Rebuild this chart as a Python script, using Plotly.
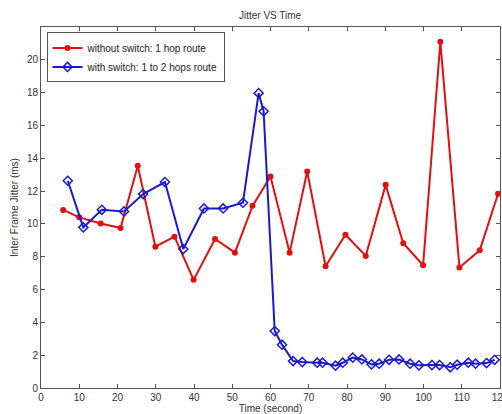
import plotly.graph_objects as go

red_x = [5.8, 10.0, 15.6, 20.8, 25.3, 29.9, 34.9, 39.9, 45.5, 50.7, 55.3, 60.0,
         65.0, 69.6, 74.4, 79.6, 84.9, 90.1, 94.7, 99.9, 104.4, 109.4, 114.7, 119.5]
red_y = [10.85, 10.4, 10.03, 9.75, 13.54, 8.61, 9.22, 6.59, 9.08, 8.25, 11.1, 12.89,
         8.25, 13.19, 7.42, 9.34, 8.05, 12.38, 8.82, 7.48, 21.1, 7.34, 8.39, 11.84]

blue_x = [7.0, 11.05, 15.9, 21.7, 26.7, 32.4, 37.2, 42.6, 47.6, 52.8, 56.9, 58.2,
          61.1, 63.0, 65.9, 68.3, 72.2, 73.6, 77.0, 78.9, 81.5, 83.9, 86.4, 88.4,
          91.0, 93.6, 96.5, 98.8, 102.2, 104.2, 107.0, 108.8, 111.7, 113.6, 116.5, 118.6]
blue_y = [12.63, 9.79, 10.86, 10.76, 11.82, 12.55, 8.47, 10.94, 10.94, 11.29, 17.97, 16.86,
          3.47, 2.64, 1.64, 1.58, 1.54, 1.54, 1.36, 1.54, 1.85, 1.74, 1.44, 1.48,
          1.72, 1.74, 1.48, 1.38, 1.40, 1.40, 1.26, 1.42, 1.54, 1.48, 1.52, 1.72]

x_ticks = [0, 10, 20, 30, 40, 50, 60, 70, 80, 90, 100, 110, 120]
y_ticks = [0, 2, 4, 6, 8, 10, 12, 14, 16, 18, 20]

FONT = "Liberation Sans, Arial"

fig = go.Figure()
fig.add_trace(go.Scatter(
    x=red_x, y=red_y, mode="lines+markers",
    name="without switch: 1 hop route",
    line=dict(color="#e01010", width=2),
    marker=dict(symbol="circle", size=6, color="#e01010"),
))
fig.add_trace(go.Scatter(
    x=blue_x, y=blue_y, mode="lines+markers",
    name="with switch: 1 to 2 hops route",
    line=dict(color="#1a1acc", width=2),
    marker=dict(symbol="diamond-open", size=7, color="#1a1acc", line=dict(width=1.5)),
))

axis_common = dict(
    showgrid=False, zeroline=False, showline=True, linecolor="#555555", linewidth=1,
    mirror="ticks", ticks="inside", ticklen=4, tickcolor="#555555",
    ticklabeloverflow="allow", automargin=False,
    tickfont=dict(family=FONT, size=10, color="#333333"),
)

fig.update_layout(
    width=502, height=414,
    margin=dict(l=41, r=2, t=27, b=26),
    paper_bgcolor="white", plot_bgcolor="white",
    title=dict(text="Jitter VS Time", x=0.538, xanchor="center", y=0.963, yanchor="middle",
               font=dict(family=FONT, size=10, color="#333333")),
    xaxis=dict(range=[0, 120], tickvals=x_ticks, ticktext=[str(v) for v in x_ticks],
               title=dict(text="Time (second)", standoff=2,
                          font=dict(family=FONT, size=10, color="#333333")),
               **axis_common),
    yaxis=dict(range=[0, 22], tickvals=y_ticks, ticktext=[str(v) for v in y_ticks],
               title=dict(text="Inter Frame Jitter (ms)", standoff=6,
                          font=dict(family=FONT, size=10, color="#333333")),
               **axis_common),
    legend=dict(x=0.012, y=0.985, xanchor="left", yanchor="top",
                bgcolor="white", bordercolor="#555555", borderwidth=1,
                font=dict(family=FONT, size=10, color="#222222"),
                tracegroupgap=0, itemwidth=30),
    showlegend=True,
)

fig.write_html("out.html", config={"displayModeBar": False},
               post_script="document.body.style.margin='0';")
